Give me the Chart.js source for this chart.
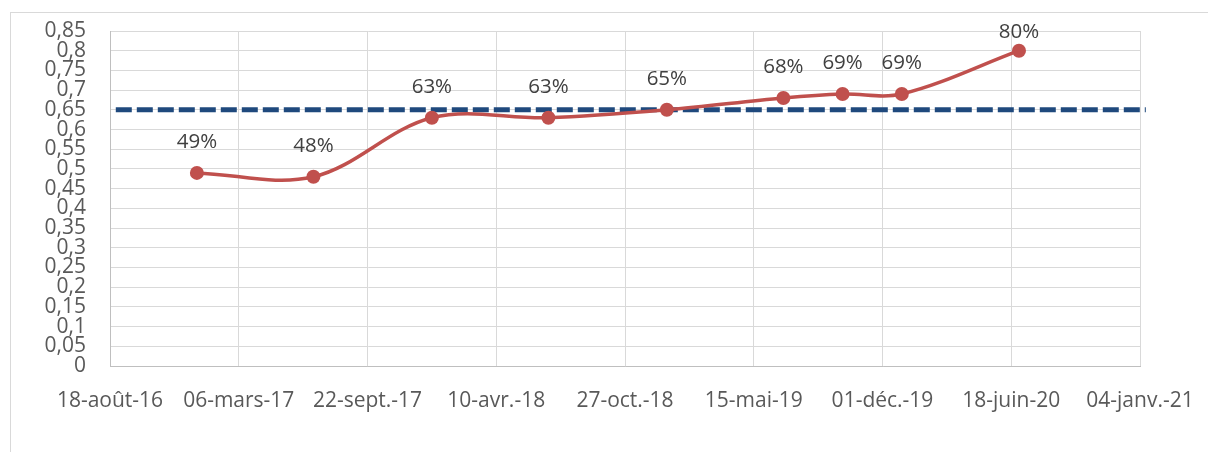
<!DOCTYPE html>
<html>
<head>
<meta charset="utf-8">
<script src="https://cdn.jsdelivr.net/npm/chart.js@4"></script>
<style>
  html, body { margin: 0; padding: 0; background: #fff; }
  canvas { display: block; }
</style>
</head>
<body>
<canvas id="chart" width="1208" height="452"></canvas>
<script>
// observation dates and rates
const dates = ['2016-12-31', '2017-06-30', '2017-12-31', '2018-06-30', '2018-12-31',
               '2019-06-30', '2019-09-30', '2019-12-31', '2020-06-30'];
const rates = [0.49, 0.48, 0.63, 0.63, 0.65, 0.68, 0.69, 0.69, 0.80];

// target line
const target = 0.65;
const targetDates = ['2016-08-27', '2021-01-13'];

// axes
const xStart = '2016-08-18';
const xEnd = '2021-01-04';
const xStepDays = 200;
const yMax = 0.85;
const yStep = 0.05;

const moisFr = ['janv.', 'févr.', 'mars', 'avr.', 'mai', 'juin', 'juil.', 'août', 'sept.', 'oct.', 'nov.', 'déc.'];
const DAY = 86400000;
const toDay = s => Date.parse(s + 'T00:00:00Z') / DAY;

function fmtDate(day) {
  const d = new Date(Math.round(day) * DAY);
  const dd = String(d.getUTCDate()).padStart(2, '0');
  const yy = String(d.getUTCFullYear() % 100).padStart(2, '0');
  return dd + '-' + moisFr[d.getUTCMonth()] + '-' + yy;
}

const FONT = '"Open Sans", sans-serif';

// percentage labels above the points
const labelPlugin = {
  id: 'pctLabels',
  afterDatasetsDraw(chart) {
    const ctx = chart.ctx;
    const meta = chart.getDatasetMeta(1);
    ctx.save();
    ctx.font = '20.5px ' + FONT;
    ctx.fillStyle = '#404040';
    ctx.textAlign = 'center';
    ctx.textBaseline = 'middle';
    meta.data.forEach((pt, i) => {
      const y = Math.max(pt.y - 31, 32);
      ctx.fillText(Math.round(rates[i] * 100) + '%', pt.x, y);
    });
    ctx.restore();
  }
};

// light border round the chart area
const framePlugin = {
  id: 'frame',
  beforeDraw(chart) {
    const ctx = chart.ctx;
    ctx.save();
    ctx.strokeStyle = '#D9D9D9';
    ctx.lineWidth = 1;
    ctx.strokeRect(10.5, 12.5, 1400, 600);
    ctx.restore();
  }
};

new Chart(document.getElementById('chart'), {
  type: 'line',
  data: {
    datasets: [
      {
        label: 'Objectif',
        data: targetDates.map(d => ({ x: toDay(d), y: target })),
        borderColor: '#1F497D',
        borderWidth: 5,
        borderDash: [16, 5],
        pointRadius: 0,
        clip: false,
        order: 2
      },
      {
        label: 'Taux',
        data: dates.map((d, i) => ({ x: toDay(d), y: rates[i] })),
        borderColor: '#C0504D',
        backgroundColor: '#C0504D',
        borderWidth: 3.5,
        tension: 0.35,
        pointRadius: 7,
        pointBorderWidth: 0,
        pointBackgroundColor: '#C0504D',
        order: 1
      }
    ]
  },
  options: {
    responsive: false,
    animation: false,
    layout: { padding: { top: 31, right: 68, left: 0, bottom: 0 } },
    plugins: { legend: { display: false }, tooltip: { enabled: false } },
    scales: {
      x: {
        type: 'linear',
        min: toDay(xStart),
        max: toDay(xEnd),
        afterBuildTicks(scale) {
          const t = [];
          for (let v = toDay(xStart); v <= toDay(xEnd) + 0.5; v += xStepDays) t.push({ value: v });
          scale.ticks = t;
        },
        afterFit(scale) {
          scale.height = 86;
          scale.paddingLeft = 0;
          scale.paddingRight = 0;
        },
        grid: { color: '#D9D9D9', lineWidth: 1, drawTicks: false },
        border: { color: '#BFBFBF', width: 1 },
        ticks: {
          autoSkip: false,
          maxRotation: 0,
          padding: 22,
          color: '#595959',
          font: { family: FONT, size: 21 },
          callback: v => fmtDate(v)
        }
      },
      y: {
        min: 0,
        max: yMax,
        afterFit(scale) {
          scale.width = 110;
          scale.paddingTop = 0;
          scale.paddingBottom = 0;
        },
        grid: { color: '#D9D9D9', lineWidth: 1, drawTicks: false },
        border: { color: '#BFBFBF', width: 1 },
        ticks: {
          stepSize: yStep,
          autoSkip: false,
          padding: 24,
          color: '#595959',
          font: { family: FONT, size: 21, lineHeight: 1 },
          callback: v => String(Math.round(v * 100) / 100).replace('.', ',')
        }
      }
    }
  },
  plugins: [framePlugin, labelPlugin]
});
</script>
</body>
</html>
